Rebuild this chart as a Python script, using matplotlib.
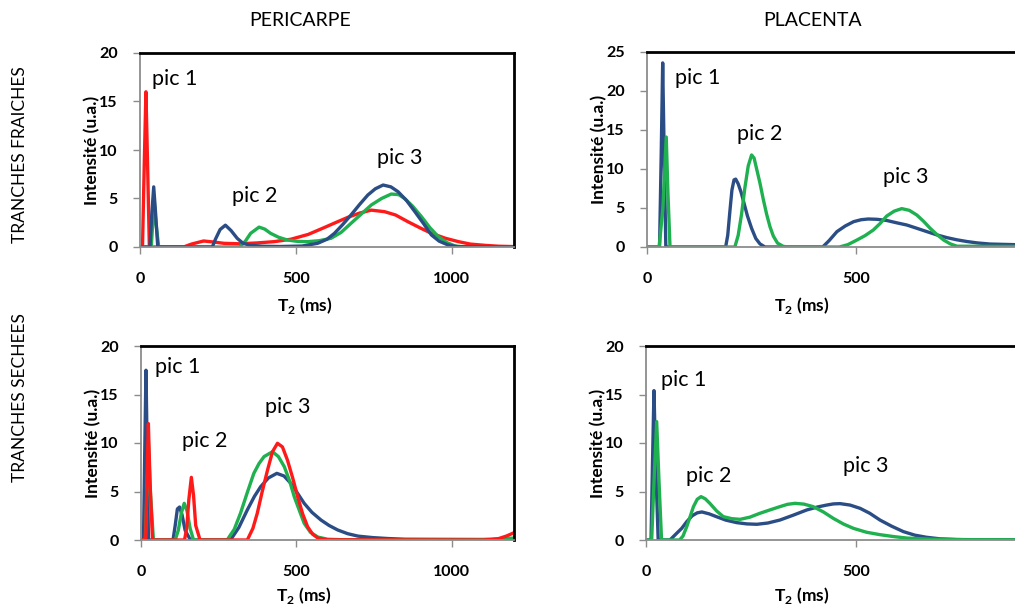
import matplotlib
matplotlib.use('Agg')
import matplotlib.pyplot as plt

"""
T2 relaxation spectra, pericarpe / placenta, fresh and dried slices.
"""

plt.rcParams['font.family'] = ['Lato', 'DejaVu Sans']
plt.rcParams['mathtext.fontset'] = 'custom'
plt.rcParams['mathtext.rm'] = 'Lato'
plt.rcParams['mathtext.bf'] = 'Lato:bold'

RED = '#ff1a1a'
BLUE = '#2b4d85'
GREEN = '#1fb04f'

col_titles = ['PERICARPE', 'PLACENTA']
row_titles = ['TRANCHES FRAICHES', 'TRANCHES SECHEES']
x_ticks = [0, 500, 1000]
x_ticks_cut = [0, 500]  # right-hand panels run past the picture edge

# --- pericarpe, tranches fraiches
p1_red_t = [0, 8, 14, 19, 24, 30, 140, 165, 204, 240, 269, 320, 376, 430, 484, 540, 591, 630, 667,
            705, 742, 785, 820, 860, 900, 935, 980, 1022, 1060, 1107, 1150, 1200]
p1_red_i = [0, 0, 9, 16.0, 9, 0, 0, 0.3, 0.62, 0.5, 0.38, 0.33, 0.42, 0.55, 0.8, 1.3, 2.0, 2.55, 3.06,
            3.5, 3.8, 3.64, 3.3, 2.6, 1.95, 1.41, 0.9, 0.55, 0.3, 0.17, 0.08, 0.04]
p1_blue_t = [0, 32, 38, 44, 50, 57, 232, 242, 257, 274, 292, 312, 330, 350, 390, 450, 520, 570, 600,
             624, 650, 677, 705, 731, 755, 780, 805, 828, 855, 882, 910, 935, 960, 989, 1020, 1200]
p1_blue_i = [0, 0, 3.5, 6.2, 3.5, 0, 0, 0.8, 1.8, 2.25, 1.7, 0.89, 0.4, 0.2, 0.08, 0.05, 0.1, 0.38, 0.8,
             1.41, 2.3, 3.3, 4.4, 5.36, 6.0, 6.39, 6.2, 5.7, 4.8, 3.64, 2.4, 1.24, 0.6, 0.2, 0.03, 0]
p1_green_t = [0, 36, 41, 45, 51, 60, 320, 338, 355, 382, 400, 419, 445, 473, 505, 538, 575, 613, 645,
              677, 710, 742, 775, 806, 830, 849, 875, 903, 930, 957, 985, 1011, 1040, 1200]
p1_green_i = [0, 0, 2.5, 5.0, 2.5, 0, 0, 0.6, 1.41, 2.05, 1.85, 1.41, 1.0, 0.72, 0.58, 0.55, 0.65, 0.9, 1.5,
              2.44, 3.4, 4.33, 5.0, 5.46, 5.4, 5.0, 4.2, 3.13, 2.0, 1.07, 0.45, 0.1, 0.02, 0]

# --- placenta, tranches fraiches
p2_blue_t = [0, 30, 34, 37.5, 41, 45, 188, 193, 198, 203, 208, 212, 218, 225, 232, 240, 250, 260, 270, 282,
             420, 435, 454, 474, 494, 512, 529, 550, 573, 597, 621, 645, 669, 693, 717, 741, 765, 790,
             820, 850, 880, 1200]
p2_blue_i = [0, 0, 12, 23.6, 12, 0, 0, 1.5, 4.5, 7.3, 8.6, 8.7, 8.1, 7.0, 5.6, 4.0, 2.4, 1.1, 0.4, 0,
             0, 0.8, 1.97, 2.7, 3.25, 3.5, 3.59, 3.55, 3.4, 3.1, 2.82, 2.4, 1.97, 1.55, 1.2, 0.92, 0.7, 0.52,
             0.38, 0.34, 0.3, 0.1]
p2_green_t = [0, 29, 38, 46, 50, 55, 210, 218, 226, 234, 242, 250, 256, 263, 270, 278, 286, 294, 302,
              312, 325, 334, 460, 480, 502, 521, 541, 557, 573, 591, 609, 627, 645, 661, 677, 693, 709,
              725, 741, 1200]
p2_green_i = [0, 0, 5, 14.1, 7, 0, 0, 1.5, 4.2, 7.6, 10.4, 11.8, 11.4, 9.8, 8.2, 6.1, 4.2, 2.6, 1.4,
              0.5, 0.1, 0, 0, 0.3, 0.9, 1.45, 2.18, 3.0, 3.97, 4.6, 4.92, 4.7, 4.1, 3.3, 2.39, 1.6, 0.9,
              0.4, 0.1, 0]

# --- pericarpe, tranches sechees
p3_blue_t = [0, 8, 12, 16, 20, 24, 103, 110, 117, 124, 132, 142, 159, 288, 315, 342, 365, 385, 410,
             437, 460, 482, 503, 525, 550, 579, 605, 633, 665, 698, 745, 795, 850, 1200]
p3_blue_i = [0, 0, 9, 17.5, 9, 0, 0, 1.5, 3.2, 3.4, 2.6, 1.0, 0, 0, 1.3, 3.1, 4.5, 5.5, 6.4,
             6.87, 6.6, 5.84, 4.85, 3.78, 2.85, 2.06, 1.5, 1.03, 0.65, 0.4, 0.25, 0.15, 0.08, 0.03]
p3_green_t = [0, 14, 19, 24, 30, 40, 110, 120, 130, 139, 148, 158, 169, 277, 300, 320, 342, 363, 380,
              396, 423, 442, 461, 478, 493, 510, 525, 545, 569, 600, 650, 1100, 1200]
p3_green_i = [0, 0, 5, 10, 5, 0, 0, 1.0, 2.8, 3.78, 3.0, 1.2, 0, 0, 1.1, 2.75, 4.9, 6.87, 7.9,
              8.6, 9.1, 8.6, 7.56, 6.1, 4.47, 3.0, 1.72, 0.8, 0.3, 0.08, 0.02, 0.05, 0.2]
p3_red_t = [0, 15, 19, 23.7, 29, 37, 140, 147, 154, 162, 169, 176, 190, 342, 360, 374, 390, 407, 423,
            439, 455, 471, 488, 504, 520, 536, 552, 569, 600, 1100, 1130, 1151, 1175, 1200]
p3_red_i = [0, 0, 6, 12.0, 6, 0, 0, 1.2, 4.2, 6.46, 4.6, 1.5, 0, 0, 1.2, 2.75, 5.0, 7.2, 9.1,
            9.97, 9.6, 8.25, 6.4, 4.47, 2.7, 1.37, 0.6, 0.2, 0.02, 0.0, 0.05, 0.15, 0.4, 0.75]

# --- placenta, tranches sechees
p4_blue_t = [0, 12, 15.5, 19, 23, 29, 57, 73, 85, 97, 110, 122, 133, 150, 168, 190, 216, 240, 264,
             290, 319, 350, 383, 408, 430, 446, 462, 486, 510, 533, 557, 585, 613, 640, 668, 700, 740,
             800, 1200]
p4_blue_i = [0, 0, 8, 15.4, 8, 0, 0, 0.69, 1.2, 1.89, 2.5, 2.8, 2.89, 2.7, 2.4, 2.05, 1.79, 1.66, 1.62,
             1.75, 2.06, 2.55, 3.1, 3.4, 3.6, 3.72, 3.75, 3.6, 3.26, 2.75, 2.06, 1.42, 0.86, 0.5, 0.28, 0.12, 0.05,
             0.02, 0]
p4_green_t = [0, 13.5, 19, 25.4, 31, 37, 80, 88, 97, 105, 113, 122, 131, 141, 152, 168, 184, 204, 224,
              247, 271, 295, 319, 337, 355, 376, 398, 422, 446, 470, 494, 525, 557, 590, 621, 680, 760, 1200]
p4_green_i = [0, 0, 6, 12.2, 6, 0, 0, 0.4, 1.37, 2.4, 3.44, 4.2, 4.47, 4.25, 3.78, 3.0, 2.41, 2.2, 2.13,
              2.35, 2.75, 3.1, 3.44, 3.68, 3.78, 3.7, 3.44, 2.9, 2.23, 1.65, 1.2, 0.8, 0.55, 0.35, 0.2, 0.08, 0.03, 0]

# peak labels (T, I) per panel
p1_pics = [(38, 16.7), (296, 4.67), (761, 8.6)]
p2_pics = [(67, 20.9), (216, 13.7), (563, 8.17)]
p3_pics = [(45, 17.2), (132, 9.55), (398, 13.06)]
p4_pics = [(36, 15.9), (95, 6.0), (468, 7.04)]

W, H = 1015, 607
fig = plt.figure(figsize=(W / 100, H / 100), dpi=100)


def make_ax(left, top, width, height, ymax, xticks, xlab_x, xlab_y):
    ax = fig.add_axes([left / W, 1 - (top + height) / H, width / W, height / H])
    ax.set_xlim(0, 1200)
    ax.set_ylim(0, ymax)
    ax.set_xticks(xticks)
    ax.set_yticks(range(0, ymax + 1, 5))
    for s in ['top', 'right']:
        ax.spines[s].set_color('black')
        ax.spines[s].set_linewidth(2.0)
    for s in ['left', 'bottom']:
        ax.spines[s].set_color('#8c8c8c')
        ax.spines[s].set_linewidth(1.3)
    ax.tick_params(axis='both', direction='out', length=5, width=1, color='#8c8c8c',
                   labelsize=11.5)
    ax.tick_params(axis='y', pad=11)
    ax.tick_params(axis='x', pad=13)
    for lab in ax.get_xticklabels() + ax.get_yticklabels():
        lab.set_fontweight('bold')
    ax.set_ylabel('Intensité (u.a.)', fontsize=12.5, fontweight='bold', va='center')
    ax.yaxis.set_label_coords(-48 / width, 0.5)
    ax.set_xlabel(r'T$_\mathbf{2}$ (ms)', fontsize=12.5, fontweight='bold', va='center')
    ax.xaxis.set_label_coords((xlab_x - left) / width, (top + height - xlab_y) / height)
    return ax


def put_pics(ax, pics):
    for k, (t, i) in enumerate(pics):
        ax.text(t, i, f'pic {k + 1}', fontsize=15.5, ha='left', va='baseline')


lw = 2.4

# top-left
ax1 = make_ax(140, 53, 374, 194, 20, x_ticks, 305, 306)
ax1.plot(p1_red_t, p1_red_i, color=RED, lw=lw)
ax1.plot(p1_green_t, p1_green_i, color=GREEN, lw=lw)
ax1.plot(p1_blue_t, p1_blue_i, color=BLUE, lw=lw)
put_pics(ax1, p1_pics)

# top-right
ax2 = make_ax(647, 52, 502, 195, 25, x_ticks_cut, 802, 306)
ax2.plot(p2_blue_t, p2_blue_i, color=BLUE, lw=lw)
ax2.plot(p2_green_t, p2_green_i, color=GREEN, lw=lw)
put_pics(ax2, p2_pics)

# bottom-left
ax3 = make_ax(141, 346, 373, 194, 20, x_ticks, 304, 596)
ax3.plot(p3_blue_t, p3_blue_i, color=BLUE, lw=lw)
ax3.plot(p3_green_t, p3_green_i, color=GREEN, lw=lw)
ax3.plot(p3_red_t, p3_red_i, color=RED, lw=lw)
put_pics(ax3, p3_pics)

# bottom-right
ax4 = make_ax(646, 346, 504, 194, 20, x_ticks_cut, 802, 596)
ax4.plot(p4_blue_t, p4_blue_i, color=BLUE, lw=lw)
ax4.plot(p4_green_t, p4_green_i, color=GREEN, lw=lw)
put_pics(ax4, p4_pics)

fig.text(300 / W, 1 - 20 / H, col_titles[0], fontsize=14, ha='center', va='center')
fig.text(813 / W, 1 - 20 / H, col_titles[1], fontsize=14, ha='center', va='center')
fig.text(20 / W, 1 - 155 / H, row_titles[0], fontsize=12.5, rotation=90, ha='center', va='center')
fig.text(20 / W, 1 - 398 / H, row_titles[1], fontsize=12.5, rotation=90, ha='center', va='center')

fig.savefig('out.png', dpi=100)
